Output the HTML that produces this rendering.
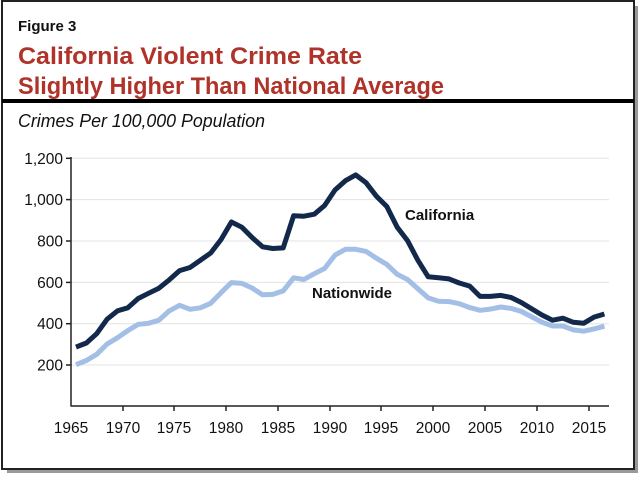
<!DOCTYPE html>
<html><head><meta charset="utf-8"><style>
body{margin:0;background:#fff;width:641px;height:475px;overflow:hidden;font-family:"Liberation Sans",sans-serif}
</style></head><body>
<svg width="641" height="475" xmlns="http://www.w3.org/2000/svg" font-family="Liberation Sans, sans-serif">
<rect x="7" y="6" width="631" height="467" fill="#999"/>
<rect x="2" y="1" width="632" height="468" fill="#fff" stroke="#222" stroke-width="2"/>
<text x="18" y="31" font-size="15" font-weight="bold" fill="#111">Figure 3</text>
<text x="18" y="64" font-size="24" font-weight="bold" fill="#b0332a" textLength="344" lengthAdjust="spacingAndGlyphs">California Violent Crime Rate</text>
<text x="18" y="94" font-size="24" font-weight="bold" fill="#b0332a" textLength="426" lengthAdjust="spacingAndGlyphs">Slightly Higher Than National Average</text>
<rect x="2" y="99" width="632" height="4" fill="#000"/>
<text x="18" y="127" font-size="18" font-style="italic" fill="#111" textLength="247" lengthAdjust="spacingAndGlyphs">Crimes Per 100,000 Population</text>
<g stroke="#e3e3e3" stroke-width="1">
<line x1="71" x2="609" y1="158.3" y2="158.3"/><line x1="71" x2="609" y1="199.6" y2="199.6"/><line x1="71" x2="609" y1="241" y2="241"/><line x1="71" x2="609" y1="282.4" y2="282.4"/><line x1="71" x2="609" y1="323.7" y2="323.7"/><line x1="71" x2="609" y1="365" y2="365"/>
</g>
<g stroke="#222" stroke-width="1.5">
<line x1="71" y1="157" x2="71" y2="406.5"/><line x1="71" y1="406" x2="609" y2="406"/>
<line x1="66" x2="71" y1="158.3" y2="158.3"/><line x1="66" x2="71" y1="199.6" y2="199.6"/><line x1="66" x2="71" y1="241" y2="241"/><line x1="66" x2="71" y1="282.4" y2="282.4"/><line x1="66" x2="71" y1="323.7" y2="323.7"/><line x1="66" x2="71" y1="365" y2="365"/>
<line x1="123" x2="123" y1="406" y2="411"/><line x1="174" x2="174" y1="406" y2="411"/><line x1="226" x2="226" y1="406" y2="411"/><line x1="278" x2="278" y1="406" y2="411"/><line x1="330" x2="330" y1="406" y2="411"/><line x1="381" x2="381" y1="406" y2="411"/><line x1="433" x2="433" y1="406" y2="411"/><line x1="485" x2="485" y1="406" y2="411"/><line x1="537" x2="537" y1="406" y2="411"/><line x1="589" x2="589" y1="406" y2="411"/>
</g>
<g font-size="15.5" fill="#111" text-anchor="end">
<text x="63" y="164">1,200</text><text x="63" y="205">1,000</text><text x="63" y="246.5">800</text><text x="63" y="288">600</text><text x="63" y="329">400</text><text x="63" y="370.5">200</text>
</g>
<g font-size="15.5" fill="#111" text-anchor="middle">
<text x="71" y="433">1965</text><text x="123" y="433">1970</text><text x="174" y="433">1975</text><text x="226" y="433">1980</text><text x="278" y="433">1985</text><text x="330" y="433">1990</text><text x="381" y="433">1995</text><text x="433" y="433">2000</text><text x="485" y="433">2005</text><text x="537" y="433">2010</text><text x="589" y="433">2015</text>
</g>
<polyline id="us" fill="none" stroke="#a3bfe6" stroke-width="5" stroke-linejoin="round" points=""/>
<polyline id="ca" fill="none" stroke="#13294b" stroke-width="5" stroke-linejoin="round" points=""/>
<text x="405" y="220" font-size="15" font-weight="bold" fill="#111">California</text>
<text x="312" y="298" font-size="15" font-weight="bold" fill="#111">Nationwide</text>
</svg>
<script>
var ca=[285,305,350,420,460,475,520,545,570,610,655,670,705,740,805,890,865,815,770,762,765,920,918,928,970,1045,1090,1118,1080,1015,965,865,800,705,625,620,615,595,580,530,530,535,525,500,470,440,415,425,405,400,430,445];
var us=[200,220,250,300,330,365,395,400,415,460,487,468,475,497,548,597,593,571,538,540,557,620,612,640,665,730,758,758,748,715,685,637,612,567,523,507,505,495,476,463,469,479,472,457,431,405,387,387,368,362,373,386];
function pts(d){return d.map(function(v,i){return (76+10.36*i).toFixed(1)+","+(406-0.2067*v).toFixed(1)}).join(" ")}
document.getElementById("ca").setAttribute("points",pts(ca));
document.getElementById("us").setAttribute("points",pts(us));
</script>
</body></html>
